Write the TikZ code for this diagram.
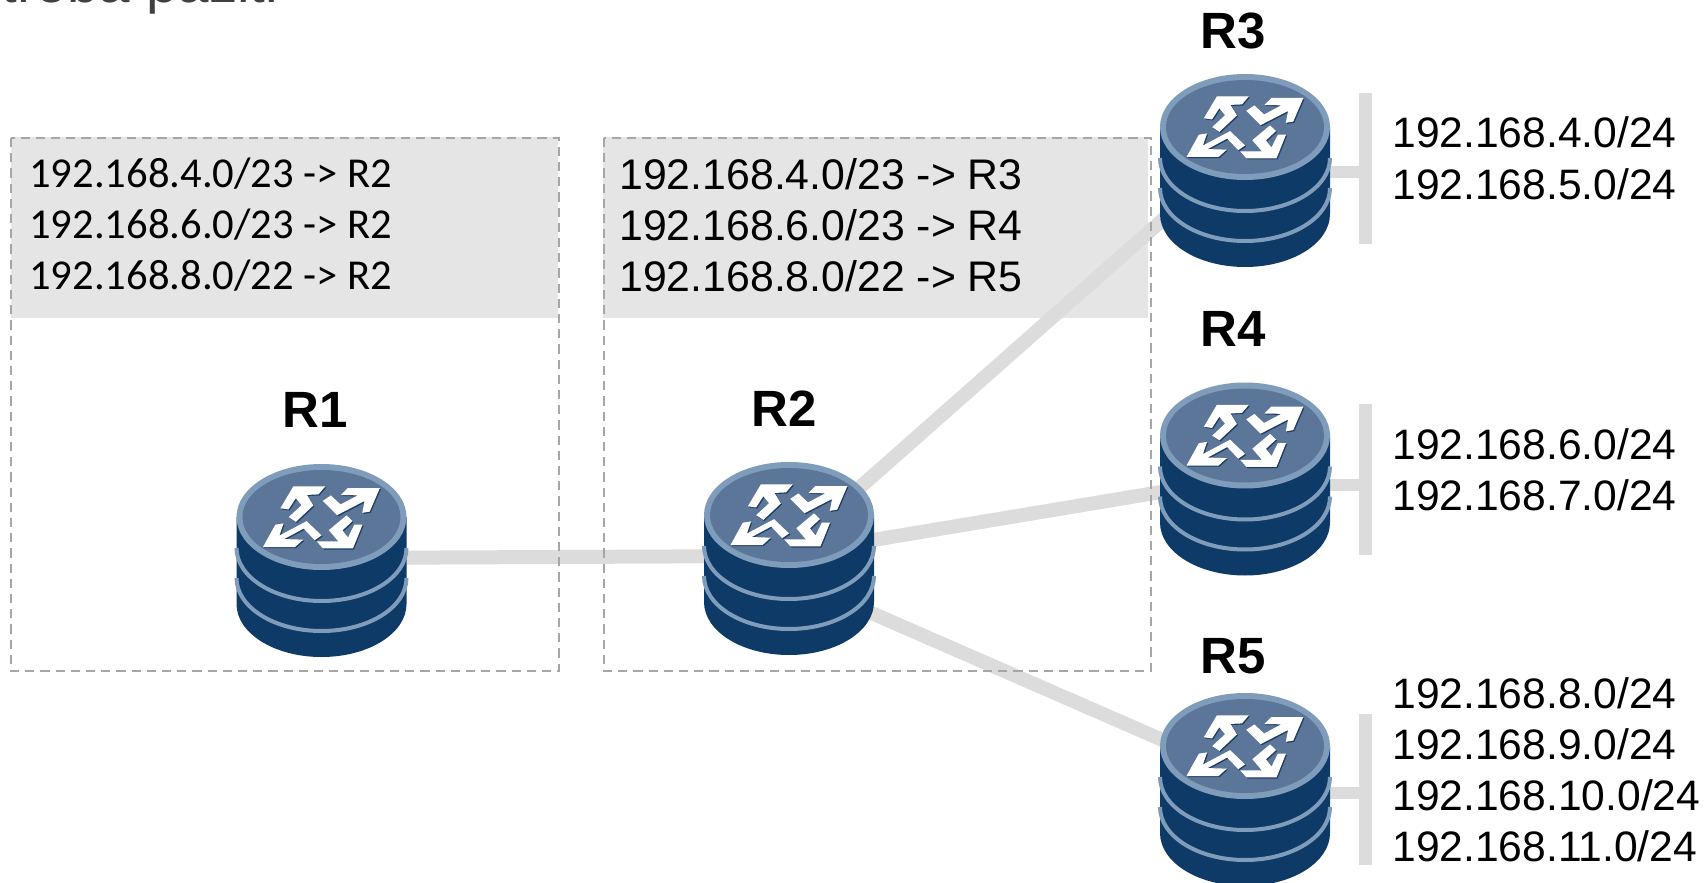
\documentclass[tikz,border=0pt]{standalone}
\usepackage{fontspec}
\setmainfont{Liberation Sans}
\newfontfamily\calib{Carlito}
\definecolor{linkgrey}{HTML}{DCDCDC}
\definecolor{tablegrey}{HTML}{E5E5E5}
\definecolor{dashgrey}{HTML}{A6A6A6}
\definecolor{rbody}{HTML}{0D3A66}
\definecolor{rrim}{HTML}{7F9DBB}
\definecolor{rtop}{HTML}{5B7699}
\definecolor{rshade}{HTML}{1F3C62}
\newcommand{\rbow}[1]{(-85,#1) .. controls (-85,{#1+29.3}) and (-47,{#1+53}) .. (0,{#1+53}) .. controls (47,{#1+53}) and (85,{#1+29.3}) .. (85,#1)}
\tikzset{
  x=0.5pt,y=-0.5pt,
  link/.style={draw=linkgrey,line width=7pt},
  stub/.style={draw=linkgrey,line width=6pt},
  lanbar/.style={draw=linkgrey,line width=6.2pt},
  zone/.style={draw=dashgrey,line width=1.4pt,dash pattern=on 4.6pt off 3pt},
  tablefill/.style={fill=tablegrey,draw=none},
  rname/.style={font=\bfseries\fontsize{25.5pt}{25.5pt}\selectfont,anchor=base west,inner sep=0pt},
  net/.style={font=\fontsize{21.3pt}{21.3pt}\selectfont,anchor=base west,inner sep=0pt},
  rte/.style={font=\fontsize{21.4pt}{21.4pt}\selectfont,anchor=base west,inner sep=0pt},
  rtecal/.style={font=\calib\fontsize{21.3pt}{21.3pt}\selectfont,anchor=base west,inner sep=0pt},
  router/.pic={
    % body
    \fill[rbody] (-85,0) -- \rbow{87} -- (85,0) -- cycle;
    \draw[rrim,line width=2pt] \rbow{31};
    \draw[rrim,line width=2pt] \rbow{61};
    % top
    \fill[rrim] (0,0) ellipse[x radius=85,y radius=53];
    \fill[rtop] (0,0) ellipse[x radius=79,y radius=47];
    % arrows
    \foreach \dx/\col in {1.1/rshade,0/white}{
      \filldraw[fill=\col,draw=\col,line width=0.7pt,shift={(\dx,\dx)}]
        (-27.7,-30) -- (2.3,-30) -- (-3.3,-23.3) -- (-15.7,-22.7) -- (-9,-11.7) -- (-25.7,4) -- (-31.7,0) -- (-19,-11.7) -- (-25.7,-20) -- (-33.3,-8.3) -- (-40,-9.3) -- cycle;
      \filldraw[fill=\col,draw=\col,line width=0.7pt,shift={(\dx,\dx)}]
        (57.3,-28.3) -- (26.7,-28.3) -- (21,-22.7) -- (39,-22.3) -- (19,-11.7) -- (9.3,-20.7) -- (2.3,-16) -- (15.7,-2.7) -- (44,-17.3) -- (41.7,-5) -- (47.7,-6) -- cycle;
      \filldraw[fill=\col,draw=\col,line width=0.7pt,shift={(\dx,\dx)}]
        (-57.3,29.3) -- (-26.7,29.3) -- (-20,23.3) -- (-40,22.7) -- (-17.7,10.7) -- (-6.7,22.3) -- (-1,18.3) -- (-15,5) -- (-43.3,20) -- (-39,7.3) -- (-45.7,8.3) -- cycle;
      \filldraw[fill=\col,draw=\col,line width=0.7pt,shift={(\dx,\dx)}]
        (31,30.7) -- (1.7,30.7) -- (-3.3,25) -- (18.3,25) -- (8.3,13.3) -- (25,-0.7) -- (30,4) -- (20,13.3) -- (26.7,21.7) -- (33.3,8.3) -- (40,8.3) -- cycle;
    }
  }
}
\begin{document}
\begin{tikzpicture}
\useasboundingbox (0,0) rectangle (1704,883);
\clip (0,0) rectangle (1704,883);

% router anchors
\coordinate (R1) at (321.5,517);
\coordinate (R2) at (789,515);
\coordinate (R3) at (1245,127);
\coordinate (R4) at (1245,435.5);
\coordinate (R5) at (1245,746);
\coordinate (R1p) at (321.5,558);
\coordinate (R2a) at (789,556);
\coordinate (R2b) at (789,550);
\coordinate (R2c) at (789,554);
\coordinate (R2d) at (789,577);
\coordinate (R3p) at (1245,147);
\coordinate (R4p) at (1245,478);
\coordinate (R5p) at (1245,776);
\coordinate (B3a) at (1365.5,93);
\coordinate (B3b) at (1365.5,244);
\coordinate (B3s) at (1365.5,172.5);
\coordinate (B4a) at (1365.5,404);
\coordinate (B4b) at (1365.5,555);
\coordinate (B4s) at (1365.5,485);
\coordinate (B5a) at (1365.5,714);
\coordinate (B5b) at (1365.5,865);
\coordinate (B5s) at (1365.5,793);
\coordinate (S3) at (1245,172.5);
\coordinate (S4) at (1245,485);
\coordinate (S5) at (1245,793);

% tables
\fill[tablefill] (11,137) rectangle (558,318);
\fill[tablefill] (603,137) rectangle (1148,318);

% links
\draw[link] (R1p) -- (R2a);
\draw[link] (R2b) -- (R3p);
\draw[link] (R2c) -- (R4p);
\draw[link] (R2d) -- (R5p);
\draw[stub] (S3) -- (B3s);
\draw[stub] (S4) -- (B4s);
\draw[stub] (S5) -- (B5s);
\draw[lanbar] (B3a) -- (B3b);
\draw[lanbar] (B4a) -- (B4b);
\draw[lanbar] (B5a) -- (B5b);

% dashed zones
\draw[zone] (11,138) rectangle (559,671);
\draw[zone] (604,138) rectangle (1151,671);

% routers
\foreach \r in {R1,R2,R3,R4,R5}{ \pic at (\r) {router}; }

% title fragment
\node[anchor=base west,inner sep=0pt,text=black!75,font=\fontsize{28.3pt}{28.3pt}\selectfont] (title) at (1,3) {treba paziti};

% router names
\node[rname] (nR1) at (282,427) {R1};
\node[rname] (nR2) at (751,426) {R2};
\node[rname] (nR3) at (1200,48.5) {R3};
\node[rname] (nR4) at (1200,346) {R4};
\node[rname] (nR5) at (1200,673.5) {R5};

% route tables
\node[rtecal] (a1) at (29,188) {192.168.4.0/23 -> R2};
\node[rtecal] (a2) at (29,238) {192.168.6.0/23 -> R2};
\node[rtecal] (a3) at (29,289) {192.168.8.0/22 -> R2};
\node[rte] (b1) at (619,190) {192.168.4.0/23 -> R3};
\node[rte] (b2) at (619,241) {192.168.6.0/23 -> R4};
\node[rte] (b3) at (619,292) {192.168.8.0/22 -> R5};

% networks
\node[net] (n4) at (1392,148) {192.168.4.0/24};
\node[net] (n5) at (1392,199) {192.168.5.0/24};
\node[net] (n6) at (1392,459) {192.168.6.0/24};
\node[net] (n7) at (1392,510) {192.168.7.0/24};
\node[net] (n8) at (1392,708) {192.168.8.0/24};
\node[net] (n9) at (1392,759) {192.168.9.0/24};
\node[net] (n10) at (1392,810) {192.168.10.0/24};
\node[net] (n11) at (1392,861) {192.168.11.0/24};
\end{tikzpicture}
\end{document}
